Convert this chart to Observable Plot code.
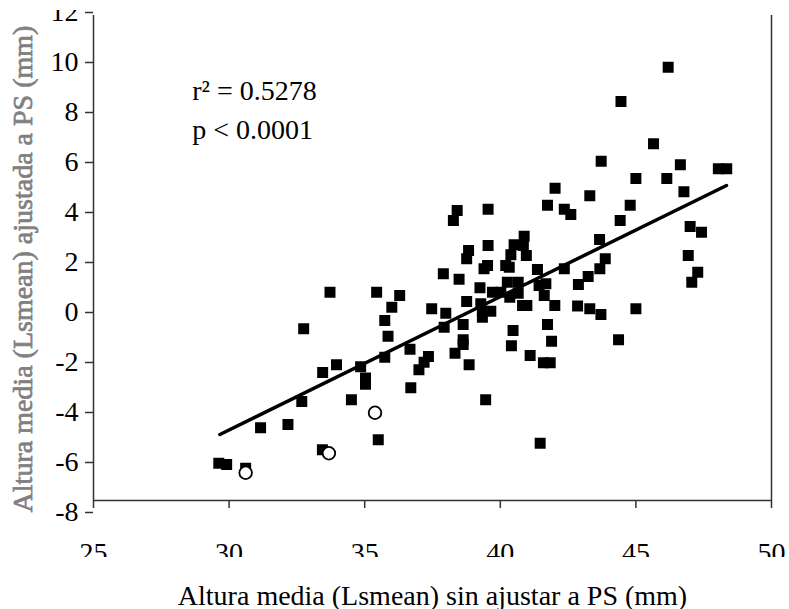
<!DOCTYPE html>
<html><head><meta charset="utf-8">
<script src="https://cdn.jsdelivr.net/npm/d3@7"></script>
<script src="https://cdn.jsdelivr.net/npm/@observablehq/plot@0.6"></script>
<style>
html,body{margin:0;padding:0;background:#fff;}
svg{display:block;clip-path:polygon(0 10px,789px 10px,789px 557px,0 557px,0 584px,789px 584px,789px 609px,0 609px);}
</style>
</head><body><div id="chart"></div>
<script>
const squaresX = [46.19,44.45,45.65,43.72,46.64,48.04,48.35,45.00,46.14,46.77,42.02,43.30,41.74,42.36,42.60,44.79,44.42,47.00,47.42,46.93,47.28,47.06,43.66,43.87,43.67,43.24,42.88,38.41,38.27,39.55,40.88,40.51,40.85,40.39,40.96,39.55,38.83,38.76,39.53,39.40,40.20,40.33,41.37,42.36,37.90,38.48,40.26,40.66,39.25,39.71,40.02,40.35,40.66,41.43,41.68,41.62,38.76,39.28,40.82,40.98,42.01,37.47,37.99,39.34,39.65,39.34,37.93,38.63,41.74,40.47,38.63,38.63,41.89,40.41,38.33,41.10,41.59,41.84,38.85,39.46,41.47,44.36,45.00,43.30,43.71,42.85,36.67,37.35,37.19,37.00,36.70,33.72,35.44,36.29,36.00,35.74,35.86,32.75,35.74,33.96,33.45,34.85,35.03,35.03,34.51,32.68,35.50,32.17,31.16,33.44,29.62,29.91,30.61];
const squaresY = [9.33,7.96,6.27,5.57,5.43,5.27,5.27,4.88,4.88,4.35,4.49,4.19,3.81,3.65,3.44,3.81,3.20,2.96,2.73,1.80,1.13,0.73,2.44,1.67,1.27,0.96,0.64,3.60,3.20,3.65,2.57,2.23,2.20,1.83,1.80,2.20,2.00,1.67,1.40,1.27,1.40,1.33,1.24,1.27,1.07,0.85,0.73,0.73,0.51,0.33,0.33,0.13,0.29,0.60,0.67,0.20,-0.04,-0.13,-0.20,-0.20,-0.20,-0.33,-0.51,-0.43,-0.43,-0.67,-1.07,-0.96,-0.96,-1.20,-1.57,-1.76,-1.63,-1.81,-2.11,-2.20,-2.49,-2.49,-2.57,-3.97,-5.71,-1.57,-0.33,-0.33,-0.56,-0.22,-1.95,-2.24,-2.47,-2.77,-3.49,0.33,0.33,0.20,-0.27,-0.80,-1.43,-1.13,-2.27,-2.57,-2.88,-2.65,-3.10,-3.35,-3.97,-4.04,-5.57,-4.96,-5.09,-5.97,-6.51,-6.56,-6.71];
const circlesX = [35.38,33.68,30.61];
const circlesY = [-4.49,-6.11,-6.89];
const fitX = [29.66,48.34];
const fitY = [-5.36,4.60];
const xTicks = [25,30,35,40,45,50];
const yTicks = [-8,-6,-4,-2,0,2,4,6,8,10,12];
const statText = ["r² = 0.5278","p < 0.0001"];
const statX = [28.64,28.64];
const statY = [8.03,6.47];
const xTitle = "Altura media (Lsmean) sin ajustar a PS (mm)";
const yTitle = "Altura media (Lsmean) ajustada a PS (mm)";

const squares = squaresX.map((x,i)=>({x, y:squaresY[i]}));
const circles = circlesX.map((x,i)=>({x, y:circlesY[i]}));
const fit = fitX.map((x,i)=>({x, y:fitY[i]}));
const stats = statText.map((t,i)=>({t, x:statX[i], y:statY[i]}));

const chart = Plot.plot({
  width: 789, height: 609,
  marginLeft: 93, marginRight: 18, marginTop: 15, marginBottom: 109,
  x: {domain:[25,50]},
  y: {domain:[-8,11.4]},
  style: {fontFamily:"'Liberation Serif', 'Times New Roman', serif", fontSize:"28px", color:"#000", background:"#fff"},
  marks: [
    Plot.ruleY([-8], {stroke:"#333", strokeWidth:1.5}),
    Plot.ruleX([25,50], {stroke:"#333", strokeWidth:1.5}),
    Plot.axisX({ticks:xTicks, tickSize:8, tickPadding:34, stroke:"#333", strokeWidth:1.5, label:null, tickFormat:d=>String(d)}),
    Plot.axisY({ticks:yTicks, tickSize:8, tickPadding:7, dy:12, stroke:"#333", strokeWidth:1.5, label:null, tickFormat:d=>String(d)}),
    Plot.line(fit, {x:"x", y:"y", stroke:"#000", strokeWidth:3.5}),
    Plot.dot(squares, {x:"x", y:"y", symbol:"square", r:6.2, fill:"#000"}),
    Plot.dot(circles, {x:"x", y:"y", r:6.3, fill:"#fff", stroke:"#000", strokeWidth:1.8}),
    Plot.text(stats, {x:"x", y:"y", text:"t", textAnchor:"start", lineAnchor:"bottom", fill:"#000"}),
    Plot.text([xTitle], {frameAnchor:"bottom", dy:104, lineAnchor:"bottom", fill:"#000"}),
    Plot.text([yTitle], {frameAnchor:"left", textAnchor:"middle", rotate:-90, dx:-70, dy:11, fill:"#808080", stroke:"#808080", strokeWidth:0.7})
  ]
});
document.getElementById("chart").appendChild(chart);
</script>
</body></html>
